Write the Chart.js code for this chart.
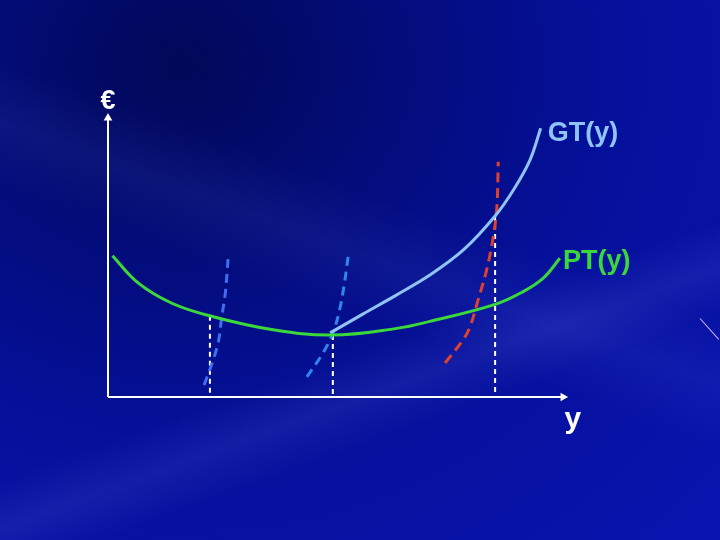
<!DOCTYPE html>
<html>
<head>
<meta charset="utf-8">
<script src="https://cdn.jsdelivr.net/npm/chart.js@4"></script>
<style>
  html, body { margin: 0; padding: 0; }
  body {
    width: 720px; height: 540px; overflow: hidden; position: relative;
    background:
      linear-gradient(200deg, rgba(255,255,255,0) 40%, rgba(120,140,255,0.08) 48%, rgba(255,255,255,0) 56%),
      linear-gradient(160deg, rgba(255,255,255,0) 60%, rgba(140,150,255,0.10) 66%, rgba(255,255,255,0) 72%),
      radial-gradient(ellipse at 25% 12%, #010858 0%, #05109a 55%, #0914b0 100%);
  }
  #streak {
    position: absolute; left: 700px; top: 318px; width: 28px; height: 1px;
    background: #d8b8f0; transform: rotate(48deg); transform-origin: left center;
  }
  canvas { position: absolute; left: 0; top: 0; }
</style>
</head>
<body>
<div id="streak"></div>
<canvas id="costChart" width="720" height="540"></canvas>
<script>
// values (x: output y, y: cost in €)
var ptX = [0.10, 0.68, 1.43, 2.28, 3.66, 5.00, 6.46, 7.20, 8.66, 9.28, 9.73, 10.11];
var ptY = [5.06, 4.08, 3.36, 2.91, 2.42, 2.22, 2.46, 2.71, 3.32, 3.77, 4.25, 4.97];

var gtX = [4.97, 5.71, 6.46, 7.20, 7.95, 8.66, 9.07, 9.44, 9.68];
var gtY = [2.30, 2.98, 3.66, 4.37, 5.27, 6.49, 7.42, 8.49, 9.63];

var dash1X = [2.15, 2.33, 2.47, 2.54, 2.62, 2.66, 2.69];
var dash1Y = [0.43, 1.22, 1.98, 2.82, 3.66, 4.37, 5.06];

var dash2X = [4.45, 4.81, 5.03, 5.17, 5.28, 5.38];
var dash2Y = [0.72, 1.58, 2.29, 3.05, 3.98, 5.13];

var redX = [7.54, 7.94, 8.10, 8.28, 8.47, 8.62, 8.70, 8.73];
var redY = [1.22, 2.04, 2.52, 3.48, 4.55, 5.75, 6.82, 8.43];

var dropX = [2.28, 5.03, 8.66];
var dropY = [2.91, 2.22, 6.49];

var axisXEnd = 10.18;
var axisYEnd = 10.0;

function pts(xs, ys) {
    return xs.map(function (x, i) { return { x: x, y: ys[i] }; });
}

var datasets = [
    {
        label: 'PT(y)', data: pts(ptX, ptY),
        borderColor: '#3ad83a', borderWidth: 3, tension: 0.4
    },
    {
        label: 'GT(y)', data: pts(gtX, gtY),
        borderColor: '#90c4f4', borderWidth: 3, tension: 0.35
    },
    {
        label: 'dash1', data: pts(dash1X, dash1Y),
        borderColor: '#3f6ef0', borderWidth: 3, borderDash: [9, 6], tension: 0.35
    },
    {
        label: 'dash2', data: pts(dash2X, dash2Y),
        borderColor: '#2f86ec', borderWidth: 3, borderDash: [9, 6], tension: 0.35
    },
    {
        label: 'red', data: pts(redX, redY),
        borderColor: '#e0402c', borderWidth: 3, borderDash: [10, 6], tension: 0.35
    }
];

dropX.forEach(function (x, i) {
    datasets.push({
        label: 'drop' + i, data: [{ x: x, y: dropY[i] }, { x: x, y: 0 }],
        borderColor: '#ffffff', borderWidth: 2, borderDash: [5, 4], tension: 0
    });
});

datasets.push({
    label: 'xaxis', data: [{ x: 0, y: 0 }, { x: axisXEnd, y: 0 }],
    borderColor: '#ffffff', borderWidth: 2, tension: 0,
    pointRadius: [0, 5], pointStyle: 'triangle', pointRotation: 90,
    pointBackgroundColor: '#ffffff', pointBorderWidth: 0
});
datasets.push({
    label: 'yaxis', data: [{ x: 0, y: 0 }, { x: 0, y: axisYEnd }],
    borderColor: '#ffffff', borderWidth: 2, tension: 0,
    pointRadius: [0, 5], pointStyle: 'triangle', pointRotation: 0,
    pointBackgroundColor: '#ffffff', pointBorderWidth: 0
});

var labels = [
    { text: '€', x: 0, y: 10.58, color: '#ffffff', align: 'center', font: 'bold 27px "Liberation Sans", Arial' },
    { text: 'GT(y)', x: 9.84, y: 9.46, color: '#90c4f4', align: 'left', font: 'bold 27px "Liberation Sans", Arial' },
    { text: 'PT(y)', x: 10.18, y: 4.84, color: '#3ad83a', align: 'left', font: 'bold 27px "Liberation Sans", Arial' },
    { text: 'y', x: 10.40, y: -0.82, color: '#ffffff', align: 'center', font: 'bold 30px "Liberation Sans", Arial' }
];

var textPlugin = {
    id: 'textLabels',
    afterDraw: function (chart) {
        var ctx = chart.ctx;
        var xs = chart.scales.x, ys = chart.scales.y;
        ctx.save();
        ctx.textBaseline = 'middle';
        labels.forEach(function (l) {
            ctx.font = l.font;
            ctx.fillStyle = l.color;
            ctx.textAlign = l.align;
            ctx.fillText(l.text, xs.getPixelForValue(l.x), ys.getPixelForValue(l.y));
        });
        ctx.restore();
    }
};

var ctx = document.getElementById('costChart').getContext('2d');
var chart = new Chart(ctx, {
    type: 'scatter',
    data: { datasets: datasets },
    options: {
        responsive: false,
        animation: false,
        layout: { padding: 0, autoPadding: false },
        showLine: true,
        elements: { point: { radius: 0 } },
        scales: {
            x: { type: 'linear', display: false, min: -2.416, max: 13.691 },
            y: { type: 'linear', display: false, min: -5.125, max: 14.229 }
        },
        plugins: {
            legend: { display: false },
            tooltip: { enabled: false }
        }
    },
    plugins: [textPlugin]
});
</script>
</body>
</html>
